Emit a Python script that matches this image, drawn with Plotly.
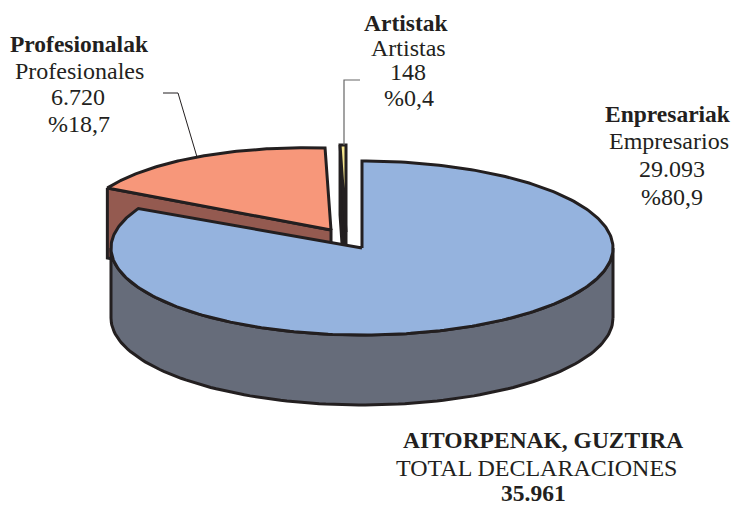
import numpy as np
import plotly.graph_objects as go

categories_eu = ["Enpresariak", "Artistak", "Profesionalak"]
categories_es = ["Empresarios", "Artistas", "Profesionales"]
values = [29093, 148, 6720]
value_labels = ["29.093", "148", "6.720"]
percent_labels = ["%80,9", "%0,4", "%18,7"]
total_title = "AITORPENAK, GUZTIRA"
total_subtitle = "TOTAL DECLARACIONES"
total_label = "35.961"

INK = "#231f20"
SERIF = "Liberation Serif"
W, H = 733, 505
RX, RY, DEPTH = 251, 87, 70

total = sum(values)
blue_deg = values[0] / total * 360
other_order = [values[0], values[2], values[1]]
cum = np.cumsum([0] + other_order) / total * 360


def warp(deg):
    # the source picture's oblique view stretches the angles slightly
    return np.interp(deg, [0, blue_deg, 360], [0, 297, 360])


def rim(cx, cy, a0, a1, n=120):
    t = np.radians(np.linspace(a0, a1, n))
    return cx + RX * np.sin(t), cy - RY * np.cos(t)


def poly(fig, x, y, fill, width=3):
    x, y = list(x), list(y)
    fig.add_trace(go.Scatter(
        x=x + x[:1], y=y + y[:1], mode="lines", fill="toself", fillcolor=fill,
        line=dict(color=INK, width=width, shape="linear"),
        hoverinfo="skip", showlegend=False))


fig = go.Figure()

a_blue = warp(cum[1])
a_orange = warp(cum[2])
a_end = 360.0

# Profesionalak: exploded slice (its rim tilts slightly in the oblique view)
ox, oy = 331, 230
rx_o, ry_o = rim(ox, oy, a_blue, a_orange)
ry_o = ry_o + 5 + 0.034 * (rx_o - 327)
poly(fig, [rx_o[0], ox, ox, rx_o[0]], [ry_o[0], oy, oy + DEPTH, ry_o[0] + DEPTH], "#945a50")
poly(fig, [ox, *rx_o], [oy, *ry_o], "#f7977a")

# Artistak: exploded slice
ax, ay = 346, 232
rx_a, ry_a = rim(ax, ay, a_orange, a_end, 8)
poly(fig, [rx_a[0], ax, ax, rx_a[0]], [ry_a[0], ay, ay + DEPTH, ry_a[0] + DEPTH], INK)
poly(fig, [ax, *rx_a], [ay, *ry_a], "#f5e58c")

# Enpresariak: main slice
cx, cy = 362, 248
wx, wy = rim(cx, cy, 90, 270)
poly(fig, [*wx, *wx[::-1]], [*(wy + DEPTH), *wy[::-1]], "#666c7a")
rx_b, ry_b = rim(cx, cy, 0, a_blue, 300)
poly(fig, [cx, *rx_b], [cy, *ry_b], "#95b3de")

# leader lines
fig.add_trace(go.Scatter(x=[163, 178, 197], y=[93, 93, 157], mode="lines",
                         line=dict(color=INK, width=1), hoverinfo="skip", showlegend=False))
fig.add_trace(go.Scatter(x=[360, 344, 344], y=[80, 80, 145], mode="lines",
                         line=dict(color="#666666", width=1.2), hoverinfo="skip", showlegend=False))


def label(x, y, text, bold=False):
    fig.add_annotation(x=x, y=y, text=f"<b>{text}</b>" if bold else text, showarrow=False,
                       xanchor="center", yanchor="middle",
                       font=dict(family=SERIF, size=23.5 if bold else 24, color=INK))


blocks = [
    ([668, 669, 672, 672], [114, 141, 169, 197], 0),
    ([406, 408, 408, 409], [23, 48, 72, 98], 1),
    ([79, 79, 78, 79], [44, 71, 97, 124], 2),
]
for xs, ys, i in blocks:
    label(xs[0], ys[0], categories_eu[i], bold=True)
    label(xs[1], ys[1], categories_es[i])
    label(xs[2], ys[2], value_labels[i])
    label(xs[3], ys[3], percent_labels[i])
label(543, 440, total_title, bold=True)
label(536, 468, total_subtitle)
label(533, 493, total_label, bold=True)

fig.update_layout(
    width=W, height=H, margin=dict(l=0, r=0, t=0, b=0),
    paper_bgcolor="white", plot_bgcolor="white", showlegend=False,
    xaxis=dict(range=[0, W], visible=False, fixedrange=True),
    yaxis=dict(range=[H, 0], visible=False, fixedrange=True),
)
fig.write_html("out.html", config={"displayModeBar": False},
               post_script="document.body.style.margin='0';document.documentElement.style.overflow='hidden';")
